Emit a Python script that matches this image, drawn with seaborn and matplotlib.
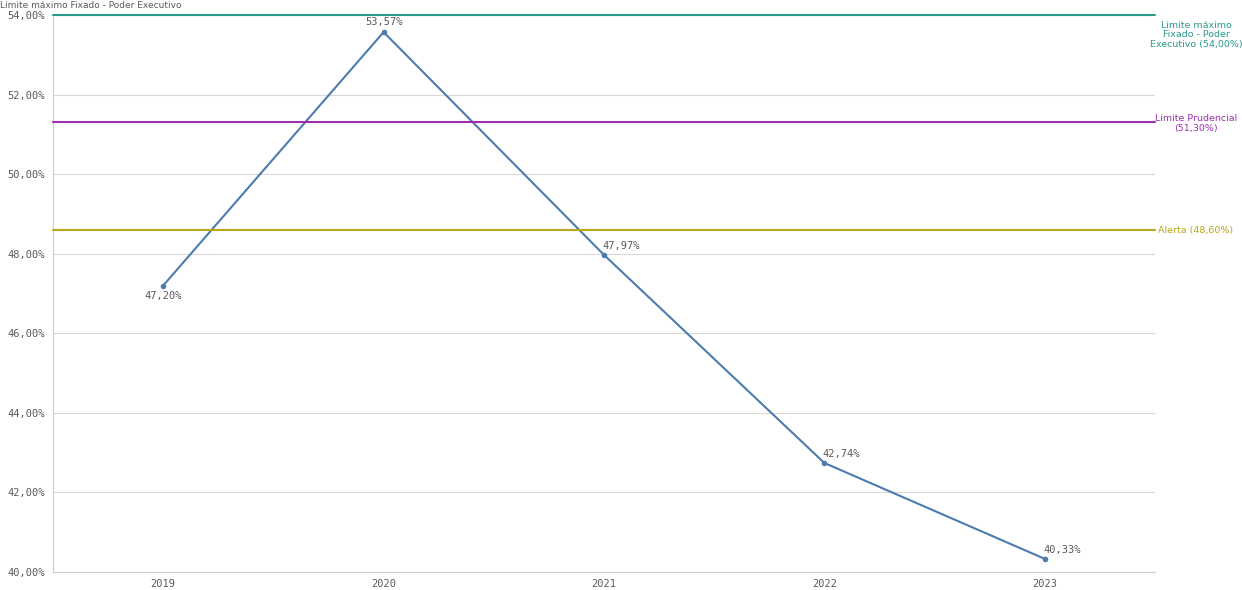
import pandas as pd
import seaborn as sns
import matplotlib.pyplot as plt
from matplotlib.ticker import FuncFormatter

anos = ['2019', '2020', '2021', '2022', '2023']
despesa = [47.20, 53.57, 47.97, 42.74, 40.33]

limites = [54.00, 51.30, 48.60]
limite_nomes = ['Limite máximo\nFixado - Poder\nExecutivo (54,00%)',
                'Limite Prudencial\n(51,30%)',
                'Alerta (48,60%)']
limite_cores = ['#2a9a8c', '#9b2fae', '#b8a718']

sns.set_style('white')
plt.rcParams['font.family'] = ['DejaVu Sans']

df = pd.DataFrame({'ano': anos, 'pct': despesa})

def pct(v):
    return format(v, '.2f').replace('.', ',') + '%'

fig = plt.figure(figsize=(12.42, 5.9), dpi=100)
ax = fig.add_axes([53/1242, 18/590, (1155-53)/1242, (572-15)/590])

ax.yaxis.grid(True, color='#d9d9d9', linewidth=0.8)
ax.set_axisbelow(True)

sns.lineplot(x='ano', y='pct', data=df, ax=ax, color='#4c7cad', linewidth=1.5,
             marker='o', markersize=4, markeredgewidth=0, sort=False)

for v, c in zip(limites, limite_cores):
    ax.axhline(v, color=c, linewidth=1.5, zorder=3, clip_on=False)

# rótulos dos pontos
offsets = [(0, -10), (0, 10), (17, 9), (17, 9), (17, 9)]
for i, (v, off) in enumerate(zip(despesa, offsets)):
    ax.annotate(pct(v), (i, v), xytext=off,
                textcoords='offset pixels', ha='center', va='center',
                fontsize=7.5, color='#595959', family='DejaVu Sans Mono')

# rótulos das linhas de referência
for v, nome, c in zip(limites, limite_nomes, limite_cores):
    ax.annotate(nome, (1.0, v), xycoords=('axes fraction', 'data'),
                xytext=(41, -1 if v < 54 else -20), textcoords='offset pixels',
                ha='center', va='center', fontsize=6.8, color=c,
                linespacing=1.1, annotation_clip=False)

ax.set_xlim(-0.5, 4.5)
ax.set_ylim(40, 54)
ax.set_yticks([40, 42, 44, 46, 48, 50, 52, 54])
ax.yaxis.set_major_formatter(FuncFormatter(lambda x, p: pct(x)))

ax.tick_params(axis='y', length=4, color='#cccccc', labelsize=7.5, labelcolor='#595959', pad=2)
ax.tick_params(axis='x', length=0, labelsize=7.5, labelcolor='#595959', pad=5)
for lab in ax.get_xticklabels() + ax.get_yticklabels():
    lab.set_family('DejaVu Sans Mono')

sns.despine(ax=ax, top=True, right=True)
ax.spines['left'].set_color('#cccccc')
ax.spines['bottom'].set_color('#cccccc')
ax.set_xlabel('')
ax.set_ylabel('')

# título no topo
fig.text(0.0, 0.999, 'Limite máximo Fixado - Poder Executivo', fontsize=6.5,
         color='#595959', va='top', ha='left')

fig.savefig('out.png', dpi=100)
